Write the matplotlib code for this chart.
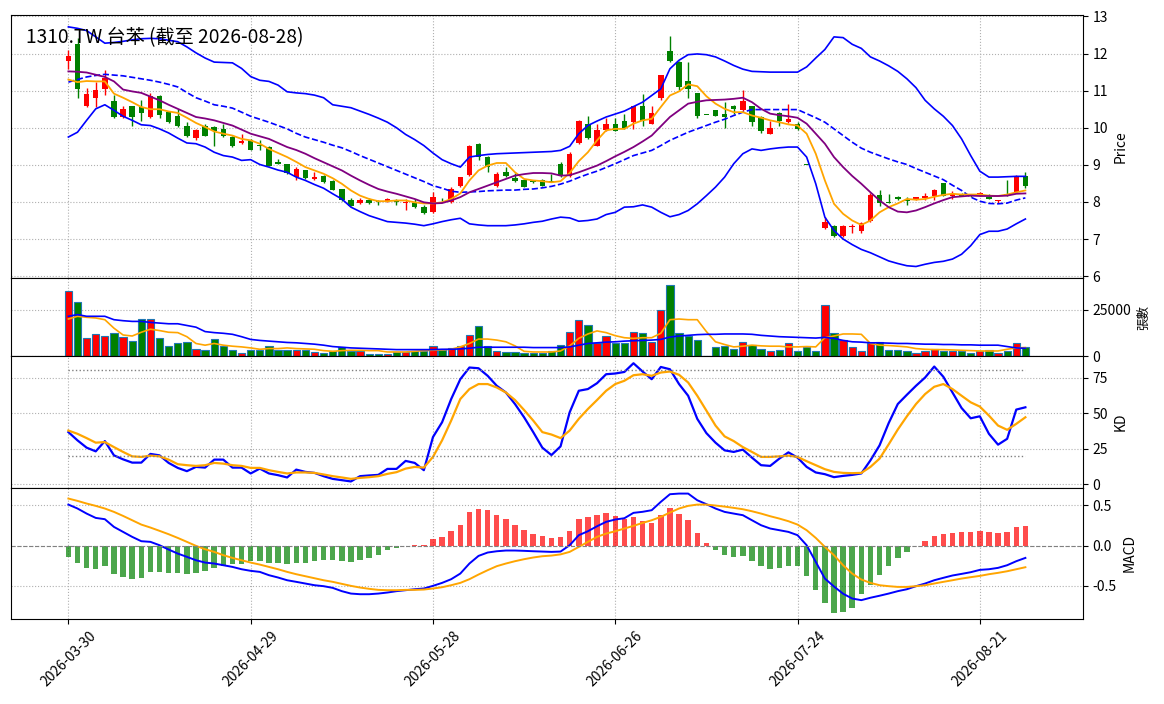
import numpy as np
import matplotlib
matplotlib.use('Agg')
import matplotlib.pyplot as plt

plt.rcParams['font.family'] = ['Noto Sans CJK TC', 'DejaVu Sans']
plt.rcParams['axes.unicode_minus'] = False

title = '1310.TW 台苯 (截至 2026-08-28)'
tick_pos = [0, 20, 40, 60, 80, 100]
tick_labels = ['2026-03-30', '2026-04-29', '2026-05-28', '2026-06-26', '2026-07-24', '2026-08-21']

# daily candles
opens = [11.80, 12.25, 10.59, 10.80, 11.05, 10.71, 10.29, 10.58, 10.56, 10.29,
         10.86, 10.42, 10.33, 10.06, 9.72, 10.06, 10.02, 9.97, 9.75, 9.59,
         9.68, 9.54, 9.48, 9.07, 9.01, 8.67, 8.85, 8.62, 8.69, 8.56,
         8.35, 8.06, 7.96, 8.04, 8.02, 8.02, 8.02, 7.96, 7.97, 7.87,
         7.72, 8.06, 7.99, 8.44, 8.73, 9.57, 9.21, 8.44, 8.80, 8.64,
         8.58, 8.56, 8.60, 8.56, 9.01, 8.71, 9.59, 10.11, 9.50, 9.93,
         10.11, 10.17, 10.15, 10.58, 10.11, 10.80, 12.06, 11.77, 11.25, 10.94,
         10.35, 10.47, 10.36, 10.60, 10.47, 10.58, 10.29, 9.84, 10.40, 10.15,
         10.11, 9.00, 8.08, 7.29, 7.36, 7.07, 7.32, 7.21, 7.48, 8.19,
         8.01, 8.12, 8.04, 8.07, 8.10, 8.17, 8.51, 8.17, 8.22, 8.19,
         8.17, 8.14, 8.03, 8.22, 8.26, 8.71]
highs = [12.09, 12.41, 11.08, 11.23, 11.57, 10.87, 10.58, 10.60, 10.76, 10.94,
         10.89, 10.45, 10.51, 10.15, 9.97, 10.11, 10.06, 10.11, 9.77, 9.84,
         9.70, 9.66, 9.50, 9.16, 9.02, 8.94, 8.87, 8.80, 8.73, 8.58,
         8.36, 8.10, 8.10, 8.10, 8.05, 8.10, 8.08, 8.08, 8.08, 7.92,
         8.26, 8.10, 8.40, 8.68, 9.54, 9.59, 9.23, 8.82, 8.94, 8.77,
         8.62, 8.59, 8.62, 8.74, 9.07, 9.34, 10.20, 10.31, 10.11, 10.27,
         10.27, 10.36, 10.60, 10.92, 10.59, 11.43, 12.47, 11.79, 11.77, 10.95,
         10.35, 10.49, 10.69, 10.62, 11.01, 10.60, 10.31, 10.17, 10.42, 10.65,
         10.15, 9.00, 8.08, 7.60, 7.38, 7.37, 7.41, 7.45, 8.23, 8.31,
         8.21, 8.17, 8.12, 8.14, 8.23, 8.35, 8.52, 8.29, 8.24, 8.22,
         8.26, 8.22, 8.06, 8.58, 8.73, 8.80]
lows = [11.59, 10.81, 10.56, 10.56, 10.87, 10.27, 10.27, 10.06, 10.17, 10.27,
        10.27, 10.13, 10.02, 9.75, 9.68, 9.77, 9.52, 9.75, 9.48, 9.57,
        9.39, 9.39, 8.96, 9.01, 8.75, 8.58, 8.62, 8.59, 8.52, 8.32,
        8.02, 7.89, 7.95, 7.95, 7.93, 8.01, 7.92, 7.78, 7.83, 7.68,
        7.70, 8.02, 7.96, 8.40, 8.71, 9.12, 8.80, 8.40, 8.67, 8.53,
        8.40, 8.50, 8.42, 8.53, 8.67, 8.67, 9.57, 9.70, 9.50, 9.91,
        9.90, 9.97, 9.97, 10.06, 10.09, 10.76, 11.77, 11.03, 10.81, 10.27,
        10.35, 10.31, 10.00, 10.38, 10.44, 10.06, 9.86, 9.82, 10.05, 10.14,
        9.95, 9.00, 8.08, 7.27, 7.06, 7.06, 7.15, 7.16, 7.45, 7.90,
        7.97, 8.04, 7.92, 8.05, 8.04, 8.05, 8.16, 8.08, 8.15, 8.14,
        8.15, 8.07, 7.96, 8.17, 8.24, 8.38]
closes = [11.94, 11.05, 10.92, 11.01, 11.35, 10.29, 10.51, 10.29, 10.40, 10.85,
          10.35, 10.15, 10.05, 9.79, 9.93, 9.79, 9.91, 9.77, 9.50, 9.63,
          9.41, 9.50, 8.98, 9.03, 8.77, 8.89, 8.64, 8.67, 8.53, 8.33,
          8.04, 7.90, 8.04, 7.96, 7.99, 8.08, 7.99, 8.01, 7.86, 7.69,
          8.14, 8.04, 8.35, 8.67, 9.52, 9.21, 8.95, 8.76, 8.71, 8.56,
          8.41, 8.53, 8.44, 8.54, 8.71, 9.28, 10.17, 9.72, 9.95, 10.11,
          9.91, 9.99, 10.58, 10.17, 10.41, 11.41, 11.80, 11.10, 11.05, 10.33,
          10.35, 10.33, 10.29, 10.50, 10.71, 10.15, 9.91, 9.99, 10.17, 10.23,
          9.97, 9.00, 8.08, 7.47, 7.07, 7.36, 7.36, 7.43, 8.19, 7.97,
          7.97, 8.08, 8.02, 8.12, 8.17, 8.31, 8.17, 8.22, 8.17, 8.17,
          8.23, 8.07, 8.04, 8.17, 8.71, 8.42]

ma5 = [11.30, 11.23, 11.26, 11.25, 11.25, 10.92, 10.81, 10.69, 10.56, 10.50,
       10.50, 10.44, 10.40, 10.27, 10.13, 10.02, 9.90, 9.84, 9.79, 9.70,
       9.66, 9.57, 9.43, 9.32, 9.21, 9.08, 8.94, 8.85, 8.76, 8.64,
       8.49, 8.31, 8.17, 8.08, 8.02, 8.02, 8.04, 8.04, 7.99, 7.96,
       7.96, 7.99, 8.08, 8.23, 8.58, 8.85, 8.98, 9.05, 9.05, 8.80,
       8.62, 8.58, 8.56, 8.53, 8.56, 8.78, 9.10, 9.34, 9.66, 9.93,
       9.97, 9.97, 10.11, 10.20, 10.24, 10.56, 10.87, 10.98, 11.17, 11.12,
       10.85, 10.65, 10.51, 10.42, 10.42, 10.33, 10.27, 10.20, 10.15, 10.09,
       10.06, 9.84, 9.30, 8.58, 7.95, 7.68, 7.50, 7.38, 7.50, 7.72,
       7.86, 7.96, 8.08, 8.06, 8.08, 8.14, 8.19, 8.22, 8.20, 8.20,
       8.20, 8.17, 8.16, 8.20, 8.26, 8.31]
ma10 = [11.52, 11.51, 11.49, 11.43, 11.37, 11.25, 11.03, 10.98, 10.94, 10.84,
        10.74, 10.62, 10.51, 10.40, 10.29, 10.25, 10.20, 10.13, 10.06, 9.95,
        9.84, 9.77, 9.70, 9.59, 9.48, 9.40, 9.30, 9.18, 9.07, 8.96,
        8.85, 8.71, 8.58, 8.46, 8.35, 8.28, 8.22, 8.15, 8.08, 7.99,
        7.96, 7.97, 8.04, 8.13, 8.26, 8.35, 8.44, 8.53, 8.62, 8.71,
        8.75, 8.78, 8.78, 8.77, 8.71, 8.72, 8.80, 8.89, 8.98, 9.10,
        9.23, 9.35, 9.48, 9.63, 9.79, 10.04, 10.29, 10.47, 10.65, 10.70,
        10.74, 10.75, 10.76, 10.78, 10.81, 10.69, 10.51, 10.38, 10.34, 10.31,
        10.27, 10.11, 9.84, 9.57, 9.21, 8.94, 8.70, 8.49, 8.26, 8.04,
        7.86, 7.74, 7.72, 7.77, 7.86, 7.96, 8.05, 8.13, 8.15, 8.17,
        8.16, 8.16, 8.16, 8.17, 8.22, 8.23]
bb_upper = [12.72, 12.68, 12.62, 12.45, 12.28, 12.30, 12.33, 12.37, 12.40, 12.41,
            12.40, 12.36, 12.32, 12.18, 12.02, 11.88, 11.77, 11.76, 11.75, 11.60,
            11.38, 11.28, 11.25, 11.15, 10.97, 10.94, 10.92, 10.88, 10.81, 10.62,
            10.58, 10.54, 10.45, 10.36, 10.26, 10.15, 10.00, 9.82, 9.68, 9.52,
            9.32, 9.14, 9.03, 8.94, 9.21, 9.25, 9.28, 9.30, 9.31, 9.32,
            9.33, 9.34, 9.35, 9.36, 9.39, 9.50, 9.84, 10.06, 10.18, 10.29,
            10.37, 10.45, 10.57, 10.69, 10.87, 11.05, 11.59, 11.82, 11.97, 11.99,
            11.97, 11.91, 11.80, 11.68, 11.58, 11.52, 11.51, 11.50, 11.50, 11.50,
            11.50, 11.64, 11.88, 12.11, 12.45, 12.43, 12.25, 12.14, 11.91, 11.80,
            11.67, 11.52, 11.32, 11.08, 10.74, 10.51, 10.31, 10.06, 9.70, 9.25,
            8.83, 8.67, 8.67, 8.68, 8.69, 8.69]
bb_mid = [11.23, 11.30, 11.37, 11.41, 11.44, 11.42, 11.40, 11.36, 11.32, 11.28,
          11.23, 11.17, 11.10, 10.95, 10.81, 10.72, 10.62, 10.58, 10.53, 10.42,
          10.31, 10.23, 10.15, 10.06, 9.97, 9.85, 9.75, 9.68, 9.61, 9.53,
          9.46, 9.36, 9.25, 9.15, 9.05, 8.95, 8.85, 8.75, 8.65, 8.55,
          8.44, 8.37, 8.29, 8.26, 8.27, 8.28, 8.30, 8.31, 8.32, 8.32,
          8.34, 8.35, 8.38, 8.42, 8.48, 8.56, 8.66, 8.75, 8.83, 8.93,
          9.03, 9.14, 9.25, 9.32, 9.39, 9.52, 9.66, 9.77, 9.88, 9.97,
          10.06, 10.15, 10.23, 10.33, 10.42, 10.49, 10.49, 10.49, 10.49, 10.49,
          10.49, 10.38, 10.27, 10.15, 9.97, 9.79, 9.61, 9.45, 9.34, 9.25,
          9.16, 9.08, 9.01, 8.90, 8.80, 8.70, 8.60, 8.45, 8.31, 8.13,
          8.02, 7.96, 7.95, 7.97, 8.05, 8.11]
bb_lower = [9.75, 9.88, 10.20, 10.51, 10.62, 10.47, 10.31, 10.20, 10.08, 10.06,
            9.97, 9.86, 9.72, 9.59, 9.57, 9.48, 9.34, 9.25, 9.21, 9.12,
            9.14, 9.01, 8.94, 8.86, 8.80, 8.67, 8.58, 8.47, 8.37, 8.22,
            8.08, 7.86, 7.74, 7.63, 7.55, 7.47, 7.45, 7.43, 7.40, 7.36,
            7.41, 7.47, 7.52, 7.56, 7.41, 7.38, 7.36, 7.36, 7.36, 7.38,
            7.41, 7.45, 7.48, 7.54, 7.59, 7.57, 7.48, 7.50, 7.54, 7.66,
            7.72, 7.86, 7.87, 7.92, 7.86, 7.72, 7.60, 7.66, 7.77, 7.95,
            8.17, 8.40, 8.67, 9.03, 9.30, 9.43, 9.39, 9.43, 9.46, 9.48,
            9.48, 9.21, 8.49, 7.59, 7.23, 7.00, 6.85, 6.72, 6.63, 6.52,
            6.41, 6.34, 6.28, 6.26, 6.32, 6.37, 6.40, 6.46, 6.59, 6.82,
            7.12, 7.21, 7.21, 7.27, 7.41, 7.54]

volume = [34600, 29170, 9600, 11780, 10690, 12320, 10150, 7970, 20110, 20110,
          9600, 5440, 6890, 7430, 4170, 3620, 9060, 5440, 3620, 1990,
          3620, 3620, 5800, 3620, 3620, 3620, 3620, 2540, 1990, 3080,
          5250, 3080, 3080, 1450, 1450, 1270, 2360, 2360, 3080, 3080,
          5800, 3620, 4710, 5800, 11230, 16130, 5800, 3080, 2540, 2540,
          1990, 1990, 1990, 2720, 6340, 12870, 19570, 16490, 6890, 11050,
          6890, 6890, 12870, 12320, 7790, 24640, 38230, 12320, 11050, 8520,
          0, 5250, 5620, 3800, 7430, 6340, 4170, 3080, 3620, 6890,
          3080, 5250, 3080, 27360, 12320, 8700, 5250, 3080, 6890, 7790,
          3620, 3620, 3080, 1990, 3080, 4170, 3080, 3080, 2720, 1990,
          2720, 3260, 1990, 3080, 6890, 4890]
vol_ma5 = [19930, 21380, 20840, 20480, 19570, 15040, 11420, 10870, 12870, 14500,
           13770, 12870, 12680, 10510, 6890, 5980, 6890, 5980, 5440, 5070,
           4530, 3800, 4170, 4170, 4530, 4170, 4000, 3800, 3080, 2720,
           3080, 3260, 3260, 3080, 3080, 2360, 2360, 2360, 2720, 3080,
           3260, 3440, 3800, 5070, 6890, 9240, 9240, 8700, 7790, 5620,
           2720, 2360, 2360, 2360, 2900, 5620, 9600, 11960, 13590, 12680,
           11050, 9970, 9600, 9970, 9970, 12320, 19570, 19930, 19570, 19570,
           13230, 7790, 6340, 5070, 5440, 5980, 5620, 5440, 5440, 5070,
           5070, 5250, 5070, 9970, 10870, 11960, 11960, 11780, 6890, 5980,
           5800, 5440, 5070, 4170, 3800, 3620, 3620, 3440, 3260, 3080,
           2900, 2900, 2900, 3800, 4530, 4710]
vol_ma20 = [21380, 22290, 21380, 21380, 21380, 19570, 19030, 18660, 18660, 18120,
            17760, 17400, 17400, 16490, 15580, 13230, 12680, 12320, 11780, 10510,
            9060, 8520, 8150, 7790, 7430, 7250, 6890, 6520, 5980, 5250,
            4890, 4530, 4350, 4170, 4000, 3800, 3620, 3620, 3620, 3620,
            3620, 3800, 3800, 3980, 4350, 4890, 4890, 4890, 4890, 4890,
            4890, 4710, 4710, 4710, 4710, 5070, 5980, 6890, 7250, 7610,
            7790, 8150, 8340, 8520, 8700, 9060, 10330, 10870, 11230, 11600,
            11780, 11780, 11960, 11960, 11960, 11780, 11230, 10870, 10510, 10330,
            10150, 9960, 9780, 10150, 9600, 8520, 7790, 7610, 7250, 7250,
            7070, 6890, 6890, 6700, 6520, 6520, 6340, 6340, 6160, 6160,
            5980, 5980, 5980, 5250, 4530, 4350]

k_vals = [36.7, 30.9, 25.8, 23.2, 30.4, 20.4, 17.6, 15.3, 15.3, 21.4,
          20.4, 15.1, 11.6, 9.3, 12.3, 11.8, 17.4, 17.4, 11.8, 11.8,
          7.7, 11.1, 7.7, 6.5, 4.9, 10.4, 8.8, 8.1, 5.8, 3.9,
          3.0, 2.1, 5.8, 6.3, 6.7, 10.9, 10.9, 16.5, 15.1, 10.0,
          33.2, 43.6, 59.9, 73.8, 82.0, 81.5, 76.2, 69.2, 64.5, 56.4,
          47.1, 36.7, 25.8, 20.6, 26.7, 50.6, 65.7, 66.9, 71.0, 77.3,
          77.8, 78.9, 85.0, 79.2, 73.8, 82.4, 80.8, 70.4, 62.2, 46.0,
          36.0, 29.3, 23.9, 22.8, 24.4, 18.8, 13.5, 13.0, 18.1, 22.5,
          18.8, 12.3, 8.4, 7.2, 5.1, 6.0, 6.7, 7.7, 16.9, 27.4,
          43.0, 56.4, 62.9, 69.2, 75.0, 82.7, 75.5, 64.5, 53.6, 46.4,
          47.8, 35.5, 27.9, 32.0, 52.5, 54.1]
d_vals = [37.8, 35.5, 32.5, 29.3, 29.7, 26.2, 22.8, 19.7, 19.3, 20.2,
          19.7, 17.4, 14.2, 13.5, 13.0, 13.5, 15.1, 14.6, 13.5, 13.0,
          11.6, 11.6, 10.0, 8.8, 7.7, 8.4, 8.4, 8.1, 7.0, 5.8,
          4.9, 3.9, 4.6, 5.1, 5.8, 7.4, 8.6, 11.1, 12.3, 11.8,
          19.3, 30.9, 44.8, 59.9, 66.9, 70.4, 70.4, 68.0, 64.5, 59.2,
          52.2, 44.8, 36.7, 35.0, 32.5, 37.8, 46.0, 52.9, 59.2, 65.7,
          70.4, 72.7, 76.6, 77.3, 76.2, 78.5, 79.2, 76.9, 71.5, 62.2,
          51.8, 41.3, 33.7, 30.4, 26.2, 22.8, 19.3, 19.3, 19.7, 20.2,
          19.3, 16.3, 13.5, 10.7, 8.8, 8.1, 7.9, 8.1, 12.3, 18.1,
          28.1, 38.5, 47.8, 56.4, 63.4, 68.5, 70.4, 66.9, 62.2, 57.6,
          54.6, 48.3, 41.3, 38.3, 42.5, 47.1]

macd_dif = [0.510, 0.461, 0.398, 0.344, 0.328, 0.232, 0.170, 0.108, 0.054, 0.046,
            0.004, -0.050, -0.100, -0.141, -0.183, -0.212, -0.224, -0.245, -0.266, -0.295,
            -0.315, -0.328, -0.369, -0.398, -0.432, -0.452, -0.473, -0.494, -0.506, -0.527,
            -0.568, -0.598, -0.606, -0.606, -0.598, -0.585, -0.568, -0.556, -0.544, -0.535,
            -0.502, -0.465, -0.419, -0.349, -0.224, -0.129, -0.087, -0.071, -0.062, -0.062,
            -0.066, -0.071, -0.075, -0.079, -0.075, 0.004, 0.129, 0.178, 0.240, 0.295,
            0.324, 0.340, 0.407, 0.420, 0.440, 0.544, 0.639, 0.647, 0.647, 0.564,
            0.515, 0.461, 0.419, 0.398, 0.378, 0.315, 0.253, 0.212, 0.191, 0.170,
            0.129, 0.004, -0.203, -0.411, -0.510, -0.600, -0.660, -0.680, -0.650, -0.625,
            -0.598, -0.568, -0.544, -0.506, -0.473, -0.432, -0.402, -0.373, -0.353, -0.332,
            -0.303, -0.295, -0.278, -0.245, -0.195, -0.154]
macd_dea = [0.585, 0.556, 0.523, 0.494, 0.461, 0.419, 0.369, 0.315, 0.261, 0.224,
            0.183, 0.141, 0.095, 0.046, -0.004, -0.046, -0.079, -0.120, -0.154, -0.183,
            -0.212, -0.237, -0.266, -0.295, -0.328, -0.357, -0.382, -0.407, -0.432, -0.452,
            -0.477, -0.502, -0.523, -0.539, -0.552, -0.556, -0.556, -0.552, -0.552, -0.548,
            -0.535, -0.519, -0.494, -0.465, -0.419, -0.361, -0.307, -0.257, -0.224, -0.195,
            -0.170, -0.149, -0.133, -0.125, -0.110, -0.079, -0.017, 0.046, 0.108, 0.149,
            0.178, 0.212, 0.245, 0.282, 0.315, 0.357, 0.411, 0.461, 0.494, 0.510,
            0.510, 0.498, 0.485, 0.469, 0.452, 0.427, 0.398, 0.365, 0.336, 0.303,
            0.261, 0.191, 0.095, -0.017, -0.120, -0.245, -0.349, -0.423, -0.465, -0.494,
            -0.506, -0.515, -0.515, -0.506, -0.494, -0.473, -0.452, -0.432, -0.411, -0.394,
            -0.378, -0.357, -0.340, -0.320, -0.295, -0.270]
macd_hist = [-0.141, -0.216, -0.278, -0.290, -0.253, -0.353, -0.390, -0.415, -0.402, -0.328,
             -0.328, -0.340, -0.340, -0.353, -0.340, -0.315, -0.278, -0.253, -0.228, -0.228,
             -0.191, -0.191, -0.216, -0.216, -0.228, -0.216, -0.216, -0.191, -0.178, -0.178,
             -0.191, -0.203, -0.178, -0.154, -0.116, -0.054, -0.029, -0.004, 0.012, 0.012,
             0.079, 0.112, 0.178, 0.253, 0.415, 0.452, 0.440, 0.378, 0.328, 0.253,
             0.191, 0.149, 0.116, 0.095, 0.104, 0.178, 0.328, 0.353, 0.378, 0.402,
             0.365, 0.328, 0.353, 0.303, 0.278, 0.378, 0.465, 0.390, 0.315, 0.154,
             0.029, -0.050, -0.116, -0.141, -0.129, -0.195, -0.253, -0.286, -0.278, -0.253,
             -0.253, -0.378, -0.552, -0.714, -0.838, -0.826, -0.776, -0.598, -0.494, -0.369,
             -0.253, -0.154, -0.079, 0.000, 0.054, 0.116, 0.141, 0.158, 0.166, 0.166,
             0.178, 0.166, 0.154, 0.166, 0.228, 0.241]

x = np.arange(len(closes))
o = np.array(opens)
c = np.array(closes)
up = c > o
candle_colors = np.where(up, 'red', 'green')

fig = plt.figure(figsize=(11.64, 7.04), dpi=100)
gs = fig.add_gridspec(4, 1, height_ratios=[4, 1.2, 2, 2], hspace=0)
ax_p = fig.add_subplot(gs[0])
ax_v = fig.add_subplot(gs[1], sharex=ax_p)
ax_k = fig.add_subplot(gs[2], sharex=ax_p)
ax_m = fig.add_subplot(gs[3], sharex=ax_p)
fig.subplots_adjust(left=0.0095, right=0.9304, top=0.9787, bottom=0.1207)

# price panel: candles + moving averages + bollinger bands
ax_p.vlines(x, lows, highs, colors=candle_colors, linewidth=1)
body = np.maximum(np.abs(c - o), 0.012)
ax_p.bar(x, body, bottom=np.minimum(o, c), width=0.6, color=candle_colors)
ax_p.plot(x, bb_upper, color='blue', linewidth=1.2)
ax_p.plot(x, bb_mid, color='blue', linewidth=1.2, linestyle='--')
ax_p.plot(x, bb_lower, color='blue', linewidth=1.2)
ax_p.plot(x, ma5, color='orange', linewidth=1.3)
ax_p.plot(x, ma10, color='purple', linewidth=1.3)
ax_p.set_ylim(5.96, 13.04)
ax_p.set_yticks(range(6, 14))
ax_p.set_ylabel('Price')
ax_p.text(0.014, 0.955, title, transform=ax_p.transAxes, fontsize=13.8, va='top')

# volume panel
ax_v.bar(x, volume, width=0.8, color=candle_colors, edgecolor='#1f77b4', linewidth=0.8)
ax_v.plot(x, vol_ma5, color='orange', linewidth=1.2)
ax_v.plot(x, vol_ma20, color='blue', linewidth=1.2)
ax_v.set_ylim(0, 42000)
ax_v.set_yticks([0, 25000])
ax_v.set_ylabel('張數', fontsize=9)

# KD panel
ax_k.plot(x, k_vals, color='blue', linewidth=1.6)
ax_k.plot(x, d_vals, color='orange', linewidth=1.6)
ax_k.hlines([80, 20], x[0], x[-1], colors='gray', linestyles=':', linewidth=1)
ax_k.set_ylim(-2.3, 89.8)
ax_k.set_yticks([0, 25, 50, 75])
ax_k.set_ylabel('KD')

# MACD panel
hist = np.array(macd_hist)
hist_colors = np.where(hist >= 0, 'red', 'green')
ax_m.bar(x, hist, width=0.6, color=hist_colors, alpha=0.7)
ax_m.plot(x, macd_dif, color='blue', linewidth=1.4)
ax_m.plot(x, macd_dea, color='orange', linewidth=1.4)
ax_m.axhline(0, color='gray', linestyle='--', linewidth=0.8)
ax_m.set_ylim(-0.915, 0.72)
ax_m.set_yticks([-0.5, 0.0, 0.5])
ax_m.set_ylabel('MACD')

for ax in (ax_p, ax_v, ax_k, ax_m):
    ax.yaxis.tick_right()
    ax.yaxis.set_label_position('right')
    ax.grid(True, linestyle=':')
    ax.set_axisbelow(True)
for ax in (ax_p, ax_v, ax_k):
    plt.setp(ax.get_xticklabels(), visible=False)

ax_m.set_xlim(-6.29, 111.32)
ax_m.set_xticks(tick_pos)
ax_m.set_xticklabels(tick_labels, rotation=45)

fig.savefig('out.png', dpi=100)
